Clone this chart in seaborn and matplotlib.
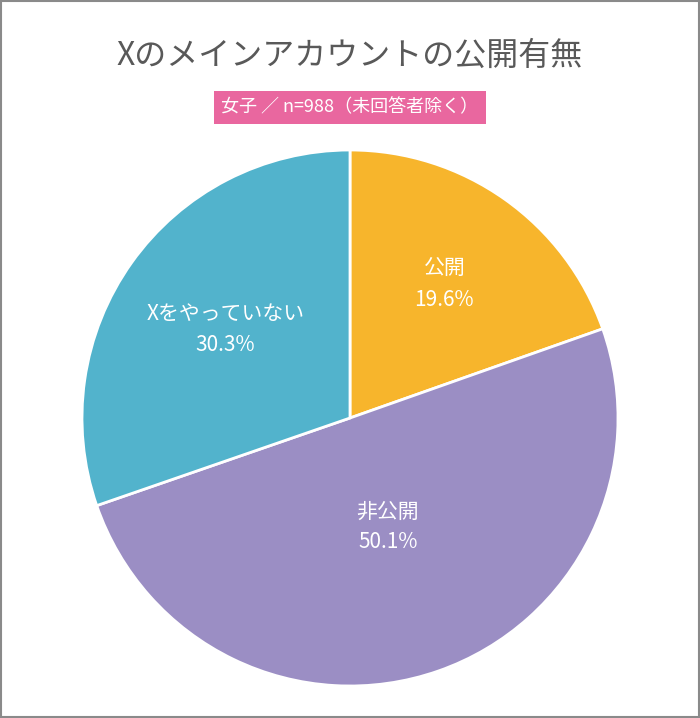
import numpy as np
import matplotlib
matplotlib.use("Agg")
import matplotlib.pyplot as plt
import seaborn as sns

sns.set_theme(style="white", font="Noto Sans CJK JP")

labels = ["公開", "非公開", "Xをやっていない"]
shares = [19.6, 50.1, 30.3]
colors = ["#F7B52C", "#9B8EC4", "#52B3CC"]
label_radius = [0.61, 0.43, 0.57]

fig = plt.figure(figsize=(7, 7.18), dpi=100)
fig.patch.set_facecolor("white")

# outer gray frame
fig.add_artist(plt.Rectangle((0.002, 0.002), 0.996, 0.996, transform=fig.transFigure,
                             fill=False, edgecolor="#8a8a8a", lw=1.5))

fig.text(0.5, 0.922, "Xのメインアカウントの公開有無", ha="center", va="center",
         fontsize=23, color="#595959")
fig.text(0.5, 0.850, "女子 ／ n=988（未回答者除く）", ha="center", va="center",
         fontsize=13, color="white",
         bbox=dict(boxstyle="square,pad=0.4", fc="#E9679F", ec="none"))

ax = fig.add_axes([82 / 700, 32 / 718, 536 / 700, 536 / 718])
wedges, _ = ax.pie(shares, colors=colors, startangle=90, counterclock=False,
                   wedgeprops=dict(edgecolor="white", linewidth=2), frame=False)

for w, name, val, r in zip(wedges, labels, shares, label_radius):
    ang = np.deg2rad((w.theta1 + w.theta2) / 2)
    ax.text(r * np.cos(ang), r * np.sin(ang), f"{name}\n{val}%", ha="center",
            va="center", color="white", fontsize=15, linespacing=1.5)

ax.set_xlim(-1, 1)
ax.set_ylim(-1, 1)
ax.set_aspect("equal")
ax.axis("off")
fig.savefig("out.png", dpi=100)
